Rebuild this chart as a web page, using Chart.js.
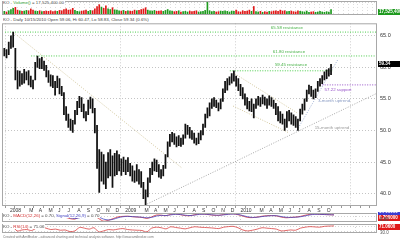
<!DOCTYPE html>
<html>
<head>
<title>KO Daily</title>
<script src="https://cdn.jsdelivr.net/npm/chart.js"></script>
<style>
  body { margin:0; width:400px; height:241px; background:#fff; position:relative; overflow:hidden; font-family:"Liberation Sans", Arial, sans-serif; }
  canvas { position:absolute; left:0; }
  .hdr { position:absolute; left:3px; font-size:4.4px; line-height:5px; color:#444; white-space:nowrap; background:#fff; padding-right:1px; }
  .foot { position:absolute; left:3px; top:235px; font-size:3.3px; line-height:5px; color:#777; white-space:nowrap; }
</style>
</head>
<body>
<canvas id="vol" width="400" height="17" style="top:0"></canvas>
<canvas id="price" width="400" height="197" style="top:17px"></canvas>
<canvas id="macd" width="400" height="11" style="top:212px"></canvas>
<canvas id="rsi" width="400" height="11" style="top:223px"></canvas>
<div class="hdr" style="top:0">KO - <span style="color:#2a9a2a">Volume()</span> = 17,525,400.00</div>
<div class="hdr" style="top:16.5px">KO - Daily 10/15/2010 Open 59.06, Hi 60.47, Lo 58.83, Close 59.34 (0.6%)</div>
<div class="hdr" style="top:212.5px">KO - <span style="color:#d03030">MACD(12,26)</span> = 0.70, <span style="color:#4040c0">Signal(12,26,9)</span> = 0.70</div>
<div class="hdr" style="top:224px">KO - <span style="color:#d03030">RSI(14)</span> = 71.06</div>
<div class="foot">Created with AmiBroker - advanced charting and technical analysis software. http://www.amibroker.com</div>
<script>
// weekly bars, first week ending Dec 14 2007 (x in months since Jan 1 2008)
const weekLow = [
  61.8, 61.5, 62.0, 63.0, 63.2, 58.0, 56.6, 57.0, 57.3, 57.5,
  58.0, 57.2, 56.9, 56.6, 58.0, 60.0, 59.8, 59.8, 59.5, 58.5,
  57.6, 57.0, 56.8, 55.6, 56.8, 55.8, 55.5, 52.5, 51.6, 50.5,
  50.0, 49.7, 51.0, 52.5, 53.6, 53.0, 52.0, 51.5, 52.5, 53.5,
  52.8, 49.6, 44.0, 40.2, 42.0, 41.5, 40.8, 42.5, 42.8, 41.0,
  42.8, 43.0, 43.6, 42.9, 43.5, 43.0, 43.5, 42.8, 42.0, 41.8,
  42.0, 41.5, 41.0, 39.2, 38.2, 39.5, 41.8, 43.0, 43.6, 43.5,
  42.6, 42.4, 42.8, 44.0, 45.8, 47.5, 48.2, 47.8, 47.4, 47.6,
  47.5, 47.8, 48.8, 49.4, 48.8, 48.6, 48.0, 47.7, 47.9, 48.5,
  49.3, 50.5, 52.0, 52.3, 53.5, 53.8, 53.6, 53.1, 53.4, 54.6,
  56.0, 56.4, 57.2, 57.5, 57.8, 57.0, 56.3, 55.5, 55.0, 54.0,
  53.4, 53.1, 53.0, 52.0, 53.5, 54.0, 53.8, 54.2, 54.0, 53.5,
  54.0, 53.8, 53.5, 52.5, 51.5, 51.2, 51.0, 50.0, 50.5, 51.5,
  51.0, 50.8, 50.5, 50.0, 51.5, 52.6, 53.2, 54.6, 55.8, 55.4,
  55.0, 55.2, 56.2, 57.0, 57.4, 58.0, 58.2, 58.6, 58.83
];
const weekHigh = [
  63.0, 62.8, 64.0, 65.0, 65.58, 63.0, 59.5, 59.4, 59.0, 59.7,
  59.3, 59.5, 58.6, 58.0, 60.8, 61.8, 61.4, 61.6, 61.0, 60.3,
  59.5, 58.8, 58.7, 57.8, 58.6, 58.2, 57.0, 56.0, 53.8, 52.6,
  51.8, 51.6, 53.2, 54.6, 55.4, 55.2, 54.2, 53.0, 54.8, 55.3,
  55.0, 53.5, 50.8, 47.0, 46.6, 46.2, 45.0, 46.5, 47.0, 46.0,
  46.4, 46.8, 46.2, 45.5, 45.8, 45.3, 45.7, 44.8, 44.4, 43.6,
  44.6, 43.8, 43.5, 41.8, 40.6, 42.5, 44.0, 45.0, 45.5, 45.3,
  44.6, 43.8, 44.5, 46.2, 48.2, 49.4, 49.7, 49.5, 49.0, 49.2,
  48.8, 49.3, 51.0, 50.8, 50.5, 50.0, 49.6, 48.8, 49.6, 50.0,
  51.0, 52.6, 53.6, 54.4, 55.0, 55.2, 54.8, 54.4, 55.0, 56.6,
  57.8, 58.2, 58.5, 59.0, 59.45, 58.6, 58.2, 57.3, 56.8, 55.8,
  55.2, 54.6, 55.0, 54.2, 55.0, 55.4, 55.2, 55.6, 55.3, 55.0,
  55.5, 55.2, 54.8, 54.3, 53.8, 53.0, 52.6, 51.8, 53.0, 53.2,
  52.8, 52.5, 52.2, 51.8, 53.4, 54.2, 55.0, 56.4, 57.2, 57.0,
  56.4, 56.6, 57.8, 58.2, 58.7, 59.3, 59.6, 59.8, 60.47
];
// volume, millions of shares
const weekVol = [
  12, 10, 14, 18, 22, 25, 16, 14, 12, 13,
  15, 14, 20, 16, 13, 12, 14, 11, 12, 13,
  12, 14, 11, 13, 12, 15, 14, 18, 20, 16,
  17, 22, 15, 12, 11, 13, 14, 16, 12, 15,
  14, 20, 28, 34, 26, 22, 30, 20, 18, 24,
  17, 16, 14, 13, 15, 12, 14, 13, 12, 16,
  14, 15, 18, 20, 24, 16, 14, 13, 15, 12,
  13, 14, 12, 15, 18, 14, 13, 11, 12, 14,
  10, 11, 12, 10, 13, 11, 12, 14, 10, 11,
  12, 15, 44, 14, 11, 12, 10, 11, 13, 12,
  14, 12, 10, 13, 12, 16, 11, 10, 14, 12,
  13, 16, 12, 28, 11, 10, 12, 9, 11, 10,
  12, 11, 13, 14, 12, 16, 13, 14, 11, 12,
  13, 11, 10, 14, 12, 11, 10, 13, 9, 10,
  11, 9, 10, 12, 10, 9, 11, 10, 17.5
];
// half-monthly indicator readings, Dec 2007 .. Oct 2010
const macdVals = [0.5,0.6, 0.8,-0.3, -0.8,-0.7, -0.6,-0.2, 0.5,0.4, 0.1,-0.3, -0.5,-0.7, -1.5,-1.8, -0.5,0.3, 0.2,0.3,
  -1.5,-3.0, -2.5,-1.5, -0.5,-0.2, -0.1,-0.4, -0.6,-0.8, -1.4,-0.5, 0.6,0.5, 0.2,1.0, 1.2,0.8, 0.3,0.2,
  0.8,1.2, 1.1,0.8, 0.5,0.4, 0.9,1.2, 1.3,0.8, 0.0,-0.8, -0.9,-0.6, -0.1,0.2, 0.3,0.1, -0.6,-1.0,
  -0.8,-0.6, -0.2,0.5, 1.0,1.2, 1.0,0.9, 0.8,0.7];
const signalVals = [0.4,0.5, 0.6,0.3, -0.3,-0.6, -0.6,-0.4, 0.1,0.3, 0.3,0.0, -0.3,-0.5, -1.0,-1.5, -1.0,-0.2, 0.1,0.2,
  -0.6,-1.8, -2.3,-1.9, -1.0,-0.4, -0.2,-0.3, -0.5,-0.7, -1.0,-0.8, 0.0,0.4, 0.3,0.7, 1.0,0.9, 0.5,0.3,
  0.6,1.0, 1.1,0.9, 0.6,0.5, 0.7,1.0, 1.2,1.0, 0.3,-0.4, -0.8,-0.7, -0.3,0.0, 0.2,0.2, -0.3,-0.7,
  -0.8,-0.7, -0.4,0.1, 0.7,1.0, 1.0,0.9, 0.8,0.7];
const rsiVals = [55,60, 65,35, 42,45, 38,55, 62,55, 45,48, 40,42, 30,35, 60,55, 48,58,
  28,35, 45,42, 48,52, 45,42, 40,38, 28,55, 62,58, 50,65, 60,55, 50,58,
  65,62, 60,58, 55,52, 62,66, 68,58, 42,35, 40,48, 58,55, 52,48, 35,38,
  42,40, 55,62, 66,64, 62,68, 70,71.06];

const priceTicks = [40, 45, 50, 55, 60, 65];
const monthLetters = ['J', 'F', 'M', 'A', 'M', 'J', 'J', 'A', 'S', 'O', 'N', 'D'];

// horizontal levels: value, start month, end month
const levelVals = [65.58, 61.80, 59.45, 57.22];
const levelFrom = [-0.52, 2.2, 22.9, 32.0];
const levelTo = [38.23, 38.23, 33.6, 38.23];
// trend lines: [x1, y1, x2, y2]
const trendDown = [0.31, 65.58, 17.92, 44.05];
const channelTop = [23.44, 58.97, 29.9, 52.8];
const channelBottom = [23.23, 53.88, 28.96, 49.7];
const upTrend3 = [29.9, 50.05, 34.17, 61.28];
const upTrend15 = [14.06, 38.2, 38.23, 55.9];

const notes = [
  { text: '65.58 resistance', x: 28.85, y: 66.2, color: '#44b044' },
  { text: '61.80 resistance', x: 29.06, y: 62.5, color: '#44b044' },
  { text: '59.45 resistance', x: 29.27, y: 60.35, color: '#44b044' },
  { text: '57.22 support', x: 34.17, y: 56.5, color: '#9650c8' },
  { text: '3-month uptrend', x: 33.75, y: 54.66, color: '#8a9cc4' },
  { text: '15-month uptrend', x: 33.54, y: 50.5, color: '#9a9a9a' }
];

Chart.defaults.font.family = '"Liberation Sans", Arial, sans-serif';
Chart.defaults.animation = false;
Chart.defaults.responsive = false;
Chart.defaults.plugins.legend.display = false;
Chart.defaults.plugins.tooltip.enabled = false;

const X_MIN = -0.833, X_MAX = 38.23;
const weekX = i => (-18 + 7 * i) / 30.44;
const halfX = i => -0.75 + 0.5 * i;
const monthTicks = [];
for (let m = 0; m <= 38; m++) monthTicks.push(m);
const halfTicks = [];
for (let m = -0.5; m <= 38; m += 0.5) halfTicks.push(m);

function xScale(extra) {
  return Object.assign({
    type: 'linear', min: X_MIN, max: X_MAX, offset: false,
    afterBuildTicks: s => { s.ticks = monthTicks.map(v => ({ value: v })); },
    ticks: { display: false },
    grid: { drawTicks: false, color: c => (c.tick && c.tick.value % 12 === 0) ? '#cdcdcd' : 'rgba(0,0,0,0)' },
    border: { display: false, dash: [1, 2] },
    afterFit: s => { s.height = 0; }
  }, extra || {});
}

function yRight(extra) {
  return Object.assign({
    position: 'right',
    ticks: { display: false },
    grid: { drawTicks: false, color: '#d4d4d4' },
    border: { display: false, dash: [1, 2] },
    afterFit: s => { s.width = 23; }
  }, extra);
}

const frame = {
  id: 'frame',
  afterDraw(chart) {
    const a = chart.chartArea, ctx = chart.ctx;
    ctx.save();
    ctx.strokeStyle = '#a8a8a8';
    ctx.lineWidth = 1;
    ctx.strokeRect(a.left + 0.5, a.top + 0.5, a.right - a.left - 1, a.bottom - a.top - 1);
    ctx.restore();
  }
};

function tag(chart, value, text, bg, fg, dy) {
  const ctx = chart.ctx;
  const y = chart.scales.y.getPixelForValue(value) + (dy || 0);
  const x = chart.chartArea.right + 1;
  ctx.save();
  ctx.fillStyle = bg;
  ctx.fillRect(x, Math.round(y - 3), 22, 6);
  ctx.fillStyle = fg;
  ctx.font = 'bold 4.5px "Liberation Sans", Arial';
  ctx.textBaseline = 'middle';
  ctx.textAlign = 'left';
  ctx.fillText(text, x + 1, Math.round(y - 3) + 3.2);
  ctx.restore();
}

function seg(v, color) {
  return {
    type: 'line',
    data: [{ x: v[0], y: v[1] }, { x: v[2], y: v[3] }],
    borderColor: color, borderWidth: 1, borderDash: [1, 1.5],
    pointRadius: 0, order: 2
  };
}

// ---- volume ----
new Chart(document.getElementById('vol'), {
  type: 'bar',
  data: {
    datasets: [{
      data: weekVol.map((v, i) => ({ x: weekX(i), y: v })),
      backgroundColor: weekVol.map((v, i) =>
        i === 0 || weekLow[i] + weekHigh[i] >= weekLow[i - 1] + weekHigh[i - 1] ? '#1e9a1e' : '#e01818'),
      barThickness: 1, grouped: false
    }]
  },
  options: {
    layout: { padding: { left: 2, top: 1, right: 0, bottom: 2 } },
    scales: {
      x: xScale({
        afterBuildTicks: s => { s.ticks = halfTicks.map(v => ({ value: v })); },
        grid: { drawTicks: false, color: '#dedede' }
      }),
      y: yRight({ min: 0, max: 46, afterBuildTicks: s => { s.ticks = [{ value: 40 }]; } })
    }
  },
  plugins: [frame, {
    id: 'volTag',
    afterDraw(chart) { tag(chart, 17.5, '17,525,400', '#1e9a1e', '#fff', 2); }
  }]
});

// ---- price ----
const priceSets = [{
  type: 'bar',
  data: weekLow.map((lo, i) => ({ x: weekX(i), y: [lo, weekHigh[i]] })),
  backgroundColor: '#111', barThickness: 1.1, grouped: false, order: 1
}];
levelVals.forEach((v, k) => {
  priceSets.push({
    type: 'line',
    data: [{ x: levelFrom[k], y: v }, { x: levelTo[k], y: v }],
    borderColor: k === 3 ? '#9650c8' : '#4ccc4c', borderWidth: 1, borderDash: [1, 1.5],
    pointRadius: 0, order: 2
  });
});
priceSets.push(seg(trendDown, '#d2c79e'));
priceSets.push(seg(channelTop, '#d2c79e'));
priceSets.push(seg(channelBottom, '#d2c79e'));
priceSets.push(seg(upTrend3, '#9fb0d4'));
priceSets.push(seg(upTrend15, '#a8a8a8'));

new Chart(document.getElementById('price'), {
  type: 'bar',
  data: { datasets: priceSets },
  options: {
    layout: { padding: { left: 2, top: 1, right: 0, bottom: 0 } },
    scales: {
      x: xScale({
        ticks: {
          display: true, autoSkip: false, maxRotation: 0, minRotation: 0, align: 'start', padding: 0,
          font: { size: 5 }, color: '#333',
          callback: v => {
            if (v > 33) return '';
            const k = ((v % 12) + 12) % 12;
            if (k === 0) return String(2008 + v / 12);
            if (k === 1) return '';
            return monthLetters[k];
          }
        },
        grid: {
          drawTicks: true, tickLength: 2, tickColor: '#999',
          color: c => (c.tick && c.tick.value % 12 === 0) ? '#cdcdcd' : 'rgba(0,0,0,0)'
        },
        afterFit: s => { s.height = 8; }
      }),
      y: yRight({
        min: 38.05, max: 66.97,
        afterBuildTicks: s => { s.ticks = priceTicks.map(v => ({ value: v })); },
        ticks: { display: true, callback: v => v.toFixed(1), font: { size: 5.5 }, color: '#333', padding: 3 },
        grid: { drawTicks: false, color: '#c4c4c4' }
      })
    }
  },
  plugins: [frame, {
    id: 'notes',
    afterDatasetsDraw(chart) {
      const ctx = chart.ctx, sx = chart.scales.x, sy = chart.scales.y;
      ctx.save();
      ctx.font = '4.4px "Liberation Sans", Arial';
      ctx.textAlign = 'center';
      ctx.textBaseline = 'middle';
      notes.forEach(n => {
        ctx.fillStyle = n.color;
        ctx.fillText(n.text, sx.getPixelForValue(n.x), sy.getPixelForValue(n.y));
      });
      ctx.restore();
    },
    afterDraw(chart) { tag(chart, weekHigh[weekHigh.length - 1], '59.34', '#000', '#fff', 0); }
  }]
});

// ---- MACD ----
new Chart(document.getElementById('macd'), {
  type: 'line',
  data: {
    datasets: [
      { data: signalVals.map((v, i) => ({ x: halfX(i), y: v })), borderColor: '#4848c0', borderWidth: 0.8, pointRadius: 0, tension: 0.3 },
      { data: macdVals.map((v, i) => ({ x: halfX(i), y: v })), borderColor: '#d83030', borderWidth: 0.8, pointRadius: 0, tension: 0.3 }
    ]
  },
  options: {
    layout: { padding: { left: 2, top: 1, right: 0, bottom: 1 } },
    scales: {
      x: xScale(),
      y: yRight({ min: -3.5, max: 1.8, afterBuildTicks: s => { s.ticks = [{ value: 0 }]; } })
    }
  },
  plugins: [frame, {
    id: 'macdTag',
    afterDraw(chart) {
      tag(chart, 0.7, '0.700000', '#3c3cd0', '#fff', -3);
      tag(chart, 0.7, '0.700000', '#e01818', '#fff', 3);
      const ctx = chart.ctx;
      ctx.save();
      ctx.fillStyle = '#555';
      ctx.font = 'bold 4.5px "Liberation Sans", Arial';
      ctx.textBaseline = 'middle';
      ctx.fillText('0.00', chart.chartArea.right + 3, chart.scales.y.getPixelForValue(0) + 4);
      ctx.restore();
    }
  }]
});

// ---- RSI ----
new Chart(document.getElementById('rsi'), {
  type: 'line',
  data: {
    datasets: [{ data: rsiVals.map((v, i) => ({ x: halfX(i), y: v })), borderColor: '#d84040', borderWidth: 0.8, pointRadius: 0, tension: 0.3 }]
  },
  options: {
    layout: { padding: { left: 2, top: 1, right: 0, bottom: 1 } },
    scales: {
      x: xScale(),
      y: yRight({ min: 20, max: 85, afterBuildTicks: s => { s.ticks = [{ value: 30 }, { value: 70 }]; } })
    }
  },
  plugins: [frame, {
    id: 'rsiTag',
    afterDraw(chart) {
      tag(chart, 71.06, '71.0600', '#e01818', '#fff', 1);
      const ctx = chart.ctx;
      ctx.save();
      ctx.fillStyle = '#555';
      ctx.font = '4.5px "Liberation Sans", Arial';
      ctx.textBaseline = 'middle';
      ctx.fillText('30.0', chart.chartArea.right + 3, chart.scales.y.getPixelForValue(30) + 1);
      ctx.restore();
    }
  }]
});
</script>
</body>
</html>
